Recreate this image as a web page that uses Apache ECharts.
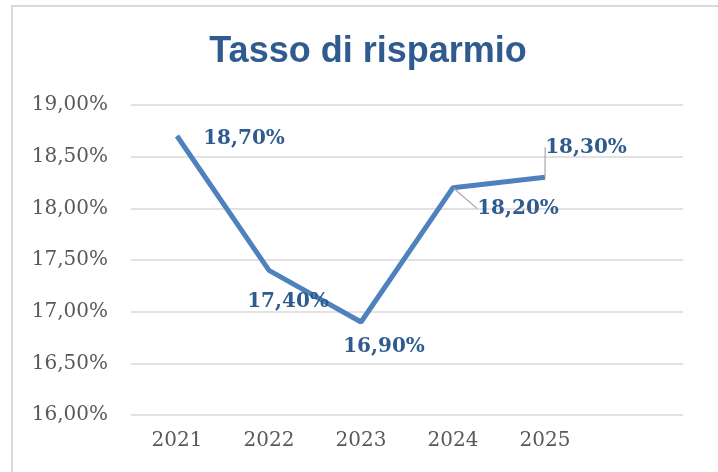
<!DOCTYPE html>
<html>
<head>
<meta charset="utf-8">
<script src="https://cdn.jsdelivr.net/npm/echarts@6/dist/echarts.min.js"></script>
<style>
  html, body { margin: 0; padding: 0; background: #fff; }
  #chart { width: 718px; height: 472px; }
</style>
</head>
<body>
<div id="chart"></div>
<script>
// dati
var anni = ['2021', '2022', '2023', '2024', '2025', '']
var tasso = [18.7, 17.4, 16.9, 18.2, 18.3]
var labelShift = [[67, 3], [19, 31], [23, 25], [65, 21], [41, -30]] // spostamento etichette
var labelGuide = [false, false, false, true, true]

var myChart = echarts.init(document.getElementById('chart'))

function pct(v) {
  return v.toFixed(2).replace('.', ',') + '%'
}

var option = {
  animation: false,
  backgroundColor: '#fff',
  title: {
    text: 'Tasso di risparmio',
    left: 363,
    textAlign: 'center',
    top: 29,
    textStyle: {
      fontFamily: 'Liberation Sans',
      fontSize: 36,
      fontWeight: 'bold',
      color: '#2F5B8F'
    }
  },
  graphic: [
    {
      type: 'rect',
      shape: { x: 12, y: 6, width: 720, height: 480 },
      style: { fill: 'none', stroke: '#D9D9D9', lineWidth: 2 },
      silent: true
    }
  ],
  grid: {
    left: 131,
    right: 35,
    top: 105,
    bottom: 57
  },
  xAxis: {
    type: 'category',
    data: anni,
    boundaryGap: true,
    axisLine: { show: false },
    axisTick: { show: false },
    axisLabel: {
      margin: 16,
      fontFamily: 'DejaVu Serif',
      fontSize: 20,
      color: '#595959'
    }
  },
  yAxis: {
    type: 'value',
    min: 16,
    max: 19,
    interval: 0.5,
    axisLine: { show: false },
    axisTick: { show: false },
    splitLine: { lineStyle: { color: '#D9D9D9', width: 1.5 } },
    axisLabel: {
      margin: 23,
      fontFamily: 'DejaVu Serif',
      fontSize: 20,
      color: '#595959',
      formatter: pct
    }
  },
  series: [
    {
      type: 'line',
      data: tasso.map(function (v, i) {
        return {
          value: v,
          labelLine: { show: labelGuide[i] }
        }
      }),
      showSymbol: true,
      symbol: 'circle',
      symbolSize: 1,
      itemStyle: { color: '#4F81BD' },
      lineStyle: { color: '#4F81BD', width: 5 },
      label: {
        show: true,
        position: 'inside',
        fontFamily: 'DejaVu Serif',
        fontWeight: 'bold',
        fontSize: 20,
        color: '#2F5B8F',
        formatter: function (p) { return pct(p.value) }
      },
      labelLine: {
        lineStyle: { color: '#A6A6A6', width: 1.2 }
      },
      labelLayout: function (p) {
        var s = labelShift[p.dataIndex]
        return { dx: s[0], dy: s[1] }
      }
    }
  ]
}

option && myChart.setOption(option)
</script>
</body>
</html>
